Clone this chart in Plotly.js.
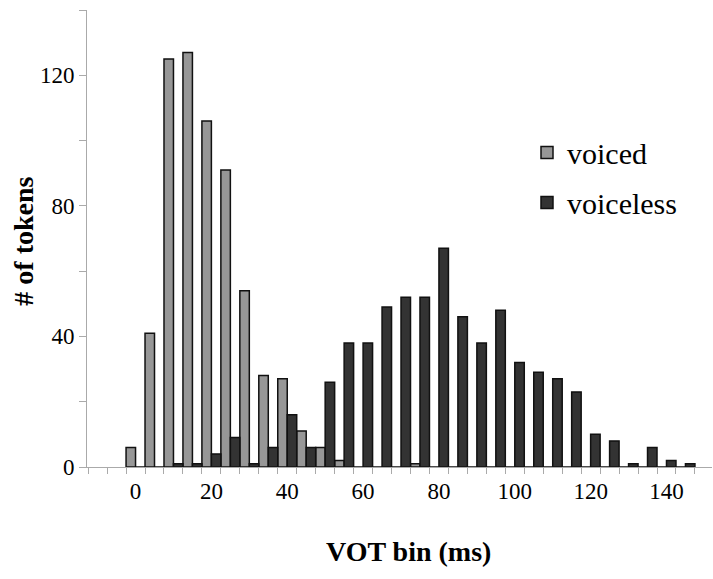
<!DOCTYPE html>
<html>
<head>
<meta charset="utf-8">
<script src="https://cdn.plot.ly/plotly-3.0.1.min.js"></script>
<style>html,body{margin:0;padding:0;background:#fff;}#chart{width:713px;height:579px;}</style>
</head>
<body>
<div id="chart"></div>
<script>
const bins = [0,5,10,15,20,25,30,35,40,45,50,55,60,65,70,75,80,85,90,95,100,105,110,115,120,125,130,135,140,145];
const voiced = [6,41,125,127,106,91,54,28,27,11,6,2,0,0,0,1,0,0,0,0,0,0,0,0,0,0,0,0,0,0];
const voiceless = [0,0,1,1,4,9,1,6,16,6,26,38,38,49,52,52,67,46,38,48,32,29,27,23,10,8,1,6,2,1];
const xTickVals = [0,20,40,60,80,100,120,140];
const yTickVals = [0,40,80,120];
const seriesNames = ['voiced','voiceless'];

const serif = '"Liberation Serif", serif';
const traces = [
  {type:'bar', x:bins, y:voiced, name:seriesNames[0], legendgroup:'a',
   marker:{color:'#979797', line:{color:'#111', width:1.5}}},
  {type:'bar', x:bins, y:voiceless, name:seriesNames[1], legendgroup:'b',
   marker:{color:'#333333', line:{color:'#111', width:1.5}}}
];
const layout = {
  width:713, height:579,
  margin:{l:87, r:1, t:10, b:112},
  paper_bgcolor:'#fff', plot_bgcolor:'#fff',
  barmode:'group', bargap:0, bargroupgap:0,
  font:{family:serif, color:'#000', size:23},
  showlegend:true,
  legend:{x:0.704, y:0.745, xanchor:'left', yanchor:'top', bgcolor:'rgba(0,0,0,0)',
          font:{family:serif, size:30, color:'#000'}, tracegroupgap:8},
  xaxis:{range:[-12.8,152], showgrid:false, zeroline:false,
         showline:true, linecolor:'#aaaaaa', linewidth:1,
         tickvals:xTickVals, ticks:'', ticklabelstandoff:3,
         tickfont:{family:serif, size:23, color:'#000'},
         minor:{tick0:2.5, dtick:5, ticks:'outside', ticklen:6, tickcolor:'#aaaaaa', showgrid:false}},
  yaxis:{range:[0,140], showgrid:false, zeroline:false,
         showline:true, linecolor:'#aaaaaa', linewidth:1,
         tickvals:yTickVals, ticks:'outside', ticklen:7, tickcolor:'#aaaaaa',
         tickfont:{family:serif, size:23, color:'#000'},
         minor:{dtick:20, ticks:'outside', ticklen:7, tickcolor:'#aaaaaa', showgrid:false}},
  annotations:[
    {text:'<b>VOT bin (ms)</b>', xref:'paper', yref:'paper', x:0.515, y:-0.184, xanchor:'center', yanchor:'middle',
     showarrow:false, font:{family:serif, size:28, color:'#000'}},
    {text:'<b># of tokens</b>', xref:'paper', yref:'paper', x:-0.101, y:0.495, xanchor:'center', yanchor:'middle',
     textangle:-90, showarrow:false, font:{family:serif, size:28, color:'#000'}}
  ]
};
Plotly.newPlot('chart', traces, layout, {displayModeBar:false, staticPlot:true});
</script>
</body>
</html>
